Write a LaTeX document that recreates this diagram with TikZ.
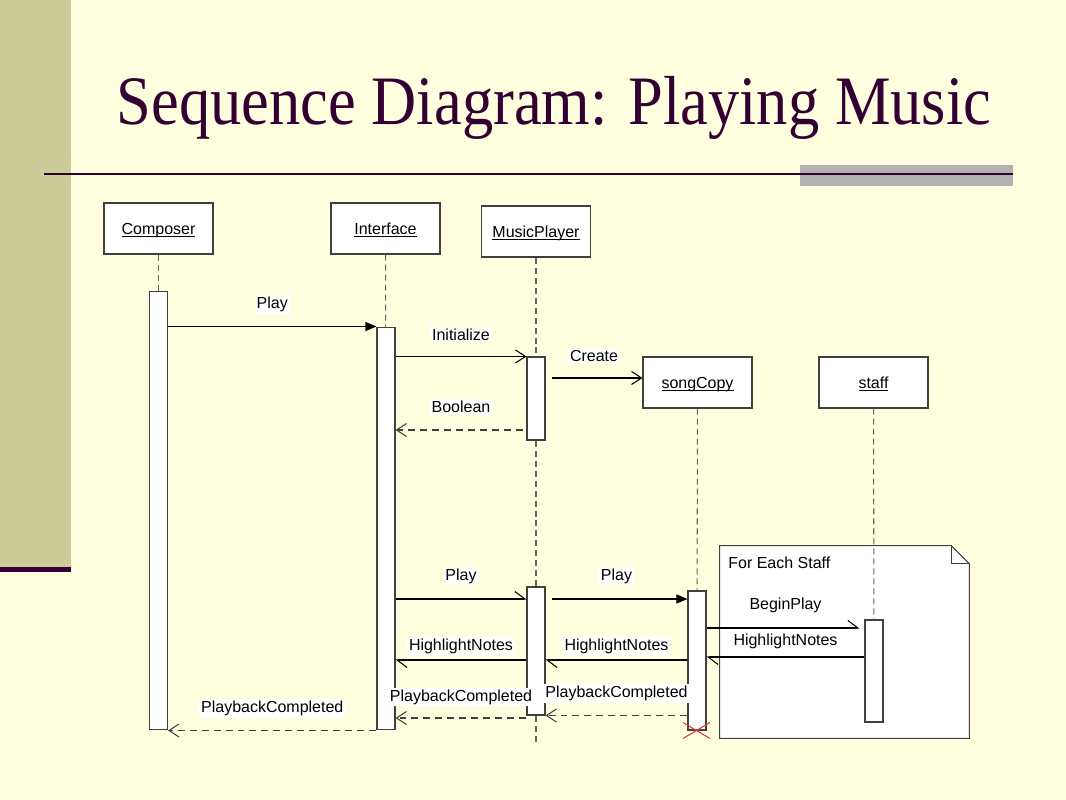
\documentclass[tikz,border=0pt]{standalone}
\usepackage{fontspec}
\setmainfont{Liberation Sans}
\newfontfamily\titlefont{Liberation Serif}
\usepackage{xcolor}
\usetikzlibrary{arrows.meta}
\definecolor{slideBg}{RGB}{255,255,224}
\definecolor{slideStrip}{RGB}{204,204,153}
\definecolor{slidePurple}{RGB}{51,0,51}
\definecolor{slideGray}{RGB}{178,178,178}
\definecolor{umlLine}{RGB}{64,64,64}
\definecolor{umlDash}{RGB}{100,100,100}
\definecolor{umlRed}{RGB}{215,60,60}
\newcommand{\objName}[1]{\underline{\smash{#1}}}
\tikzstyle{sObject} = [rectangle, minimum width=2.18cm, minimum height=1.02cm, text centered, text height=1.6ex, text depth=0.4ex, draw=umlLine, fill=white, line width=0.6pt, font=\fontsize{9.1}{11}\selectfont]
\tikzstyle{sBar} = [rectangle, minimum width=0.36cm, inner sep=0pt, draw=umlLine, fill=white, line width=0.6pt]
\tikzstyle{sLife} = [umlDash, dash pattern=on 0.12cm off 0.08cm, line width=0.6pt]
\tikzstyle{sNote} = [draw=umlLine, fill=white, line width=0.6pt]
\tikzstyle{sLabel} = [fill=white, text=black, inner sep=1pt, font=\fontsize{9.1}{11}\selectfont]
\tikzstyle{sSync} = [line width=0.6pt, -{Triangle[length=0.22cm, width=0.18cm]}]
\tikzstyle{sCall} = [line width=0.6pt, -{Straight Barb[length=0.2cm, width=0.26cm]}]
\tikzstyle{sAsync} = [line width=0.6pt, -{Straight Barb[harpoon, length=0.2cm, width=0.3cm]}]
\tikzstyle{sReturn} = [sCall, umlLine, dash pattern=on 0.14cm off 0.1cm]
\tikzstyle{sDestroy} = [umlRed, line width=0.6pt]

\begin{document}
\begin{tikzpicture}[x=0.02cm, y=-0.02cm]
    % slide
    \useasboundingbox (0,0) rectangle (1066,800);
    \fill[slideBg] (0,0) rectangle (1066,800);
    \fill[slideStrip] (0,0) rectangle (71,567);
    \fill[slidePurple] (0,567) rectangle (71,572);
    \fill[slideGray] (800,165) rectangle (1013,186);
    \draw[slidePurple, line width=1.7pt] (44,174) -- (1013,174);
    \node (title) [anchor=base, text=slidePurple, font=\titlefont\fontsize{39.5}{44}\selectfont] at (554,125) {\scalebox{0.9}[1]{Sequence Diagram: Playing Music}};

    % objects
    \node (composer) [sObject] at (158.5,228.5) {\objName{Composer}};
    \node (interface) [sObject] at (385.5,228.5) {\objName{Interface}};
    \node (musicPlayer) [sObject] at (536,231.5) {\objName{MusicPlayer}};
    \node (songCopy) [sObject] at (697.5,382.5) {\objName{songCopy}};
    \node (staff) [sObject] at (873.5,382.5) {\objName{staff}};

    % note
    \node (note) [minimum width=4.98cm, minimum height=3.84cm, inner sep=0pt] at (844.5,642) {};
    \draw[sNote] (note.north west) -- ([xshift=-0.36cm]note.north east) -- ([yshift=-0.36cm]note.north east) -- (note.south east) -- (note.south west) -- cycle;
    \draw[sNote, fill=none] ([xshift=-0.36cm]note.north east) |- ([yshift=-0.36cm]note.north east);
    \node (noteText) [anchor=west, inner sep=0pt, font=\fontsize{9.1}{11}\selectfont] at (728,563) {For Each Staff};

    % activations
    \node (composerBar) [sBar, minimum height=8.78cm] at (158.5,510.5) {};
    \node (interfaceBar) [sBar, minimum height=8.06cm] at (386,528.5) {};
    \node (mpBarA) [sBar, minimum height=1.66cm] at (536,398.5) {};
    \node (mpBarB) [sBar, minimum height=2.56cm] at (536,651) {};
    \node (songBar) [sBar, minimum height=2.78cm] at (697,660.5) {};
    \node (staffBar) [sBar, minimum height=2.04cm] at (874,671) {};
    \coordinate (mpEnd) at (536,745);

    % lifelines
    \draw[sLife] (composer) -- (composerBar);
    \draw[sLife] (interface) -- (interfaceBar);
    \draw[sLife] (musicPlayer) -- (mpBarA);
    \draw[sLife] (mpBarA) -- (mpBarB);
    \draw[sLife] (mpBarB) -- (mpEnd);
    \draw[sLife] (songCopy) -- (songBar);
    \draw[sLife] (staff) -- (staffBar);

    % message levels
    \coordinate (tCreate) at (0,378);
    \coordinate (tBoolean) at (0,430);
    \coordinate (tPlay) at (0,599);
    \coordinate (tBegin) at (0,628);
    \coordinate (tHighA) at (0,657);
    \coordinate (tHighB) at (0,660);
    \coordinate (tDone) at (0,718);

    % messages
    \draw[sSync] (composerBar.east |- interfaceBar.north) -- node[sLabel, yshift=0.44cm] {Play} (interfaceBar.north west);
    \draw[sCall] (interfaceBar.east |- mpBarA.north) -- node[sLabel, yshift=0.44cm] {Initialize} (mpBarA.north west);
    \draw[sCall, shorten <=0.12cm] (mpBarA.east |- tCreate) -- node[sLabel, yshift=0.44cm] {Create} (songCopy.west |- tCreate);
    \draw[sReturn, shorten <=0.06cm] (mpBarA.west |- tBoolean) -- node[sLabel, yshift=0.46cm] {Boolean} (interfaceBar.east |- tBoolean);
    \draw[sAsync] (interfaceBar.east |- tPlay) -- node[sLabel, yshift=0.46cm] {Play} (mpBarB.west |- tPlay);
    \draw[sSync, shorten <=0.12cm] (mpBarB.east |- tPlay) -- node[sLabel, yshift=0.46cm] {Play} (songBar.west |- tPlay);
    \draw[sAsync, shorten >=0.1cm] (songBar.east |- tBegin) -- node[sLabel, yshift=0.46cm] {BeginPlay} (staffBar.west |- tBegin);
    \draw[sAsync] (staffBar.west |- tHighA) -- node[sLabel, yshift=0.32cm] {HighlightNotes} (songBar.east |- tHighA);
    \draw[sAsync] (songBar.west |- tHighB) -- node[sLabel, yshift=0.28cm] {HighlightNotes} (mpBarB.east |- tHighB);
    \draw[sAsync] (mpBarB.west |- tHighB) -- node[sLabel, yshift=0.28cm] {HighlightNotes} (interfaceBar.east |- tHighB);
    \draw[sReturn] (songBar.west |- mpBarB.south) -- node[sLabel, yshift=0.44cm] {PlaybackCompleted} (mpBarB.south east);
    \draw[sReturn] (mpBarB.west |- tDone) -- node[sLabel, yshift=0.42cm] {PlaybackCompleted} (interfaceBar.east |- tDone);
    \draw[sReturn] (interfaceBar.south west) -- node[sLabel, yshift=0.44cm] {PlaybackCompleted} (composerBar.east |- interfaceBar.south);

    % destroy songCopy
    \draw[sDestroy] ([shift={(-14,-8)}]songBar.south) -- ([shift={(13,8)}]songBar.south);
    \draw[sDestroy] ([shift={(-14,8)}]songBar.south) -- ([shift={(13,-8)}]songBar.south);
\end{tikzpicture}
\end{document}
